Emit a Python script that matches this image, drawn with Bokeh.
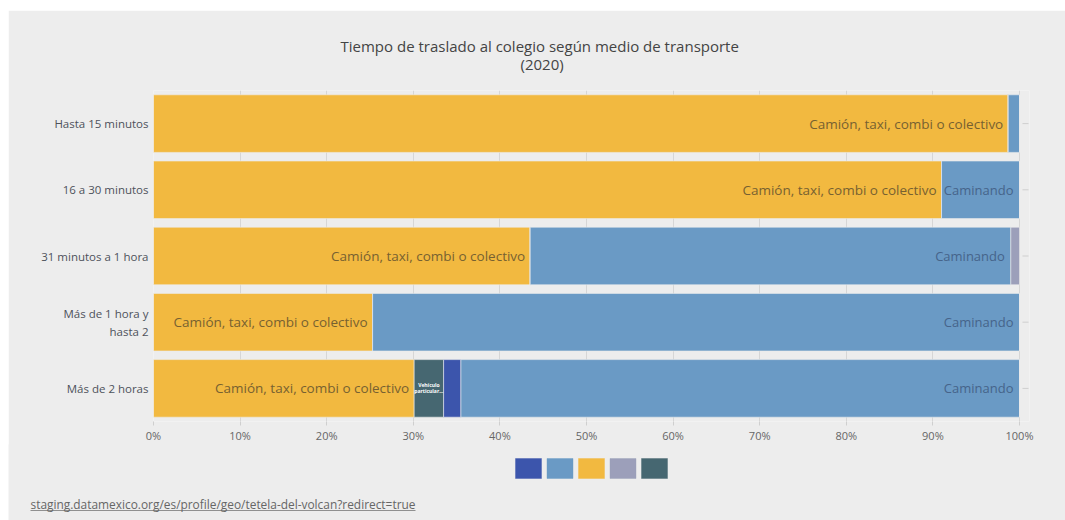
from bokeh.plotting import figure
from bokeh.layouts import column
from bokeh.models import (FactorRange, Range1d, FixedTicker, NumeralTickFormatter, Label,
                          Title, ColumnDataSource)
from bokeh.embed import file_html
from bokeh.resources import INLINE
from bokeh.core.properties import value

categories = ["Hasta 15 minutos", "16 a 30 minutos", "31 minutos a 1 hora",
              "Más de 1 hora y\nhasta 2", "Más de 2 horas"]
camion = [0.987, 0.910, 0.435, 0.253, 0.301]
vehiculo = [0.0, 0.0, 0.0, 0.0, 0.034]
bicicleta = [0.0, 0.0, 0.0, 0.0, 0.020]
caminando = [0.013, 0.090, 0.555, 0.747, 0.645]
otro = [0.0, 0.0, 0.010, 0.0, 0.0]

series = ["camion", "vehiculo", "bicicleta", "caminando", "otro"]
names = {"camion": "Camión, taxi, combi o colectivo",
         "vehiculo": "Vehículo particular",
         "bicicleta": "Bicicleta",
         "caminando": "Caminando",
         "otro": "Otro"}
colors = {"camion": "#F2B940", "vehiculo": "#466771", "bicicleta": "#3C55AC",
          "caminando": "#6A9AC5", "otro": "#9C9FBA"}
legend_order = ["bicicleta", "caminando", "camion", "otro", "vehiculo"]
x_ticks = [0, 0.1, 0.2, 0.3, 0.4, 0.5, 0.6, 0.7, 0.8, 0.9, 1.0]

title_1 = "Tiempo de traslado al colegio según medio de transporte"
title_2 = "(2020)"
source_url = "staging.datamexico.org/es/profile/geo/tetela-del-volcan?redirect=true"

BG = "#EDEDED"
FONT = "Open Sans"
W = 1057
BAR_PX = 866          # pixel width of the 0..100% span
EXTRA_PX = 10         # room on the right of 100% for the small row ticks

src = ColumnDataSource(dict(cat=categories, camion=camion, vehiculo=vehiculo,
                            bicicleta=bicicleta, caminando=caminando, otro=otro))

p = figure(width=W, height=435, output_backend="svg", toolbar_location=None,
           y_range=FactorRange(factors=categories[::-1], range_padding=0),
           x_range=Range1d(0, 1 + EXTRA_PX / BAR_PX), margin=(10, 0, 0, 8), frame_align=False,
           min_border_left=145, min_border_right=46 - EXTRA_PX, min_border_top=80,
           min_border_bottom=23,
           background_fill_color=BG, border_fill_color=BG, outline_line_color=None)
p.title.visible = False

rs = p.hbar_stack(series, y="cat", height=0.87, source=src,
                  color=[colors[s] for s in series], line_color=BG, line_width=0.6)

# small tick marks on the right side of each row
p.segment(x0=[1 + 3 / BAR_PX] * len(categories), y0=categories,
          x1=[1 + 9 / BAR_PX] * len(categories), y1=categories,
          line_color="#CFCFCF", line_width=1)

# bar labels
cum_walk = [c + v + b + w for c, v, b, w in zip(camion, vehiculo, bicicleta, caminando)]
lab_cam = ColumnDataSource(dict(x=camion, y=categories, t=[names["camion"]] * len(categories)))
p.text(x="x", y="y", text="t", source=lab_cam, text_align="right", text_baseline="middle",
       x_offset=-5, text_font=value(FONT), text_font_size="13.5px", text_color="#776131")
walk_idx = [i for i, w in enumerate(caminando) if w >= 0.05]
lab_walk = ColumnDataSource(dict(x=[cum_walk[i] for i in walk_idx],
                                 y=[categories[i] for i in walk_idx],
                                 t=[names["caminando"]] * len(walk_idx)))
p.text(x="x", y="y", text="t", source=lab_walk, text_align="right", text_baseline="middle",
       x_offset=-6, text_font=value(FONT), text_font_size="13px", text_color="#46648A")
veh_idx = [i for i, v in enumerate(vehiculo) if v > 0]
lab_veh = ColumnDataSource(dict(x=[camion[i] + vehiculo[i] / 2 for i in veh_idx],
                                y=[categories[i] for i in veh_idx],
                                t=["Vehículo\nparticular..."] * len(veh_idx)))
p.text(x="x", y="y", text="t", source=lab_veh, text_align="center", text_baseline="middle",
       text_font=value(FONT), text_font_size="5px", text_color="white", text_font_style="bold",
       text_line_height=1.0)

# axes
p.xaxis.ticker = FixedTicker(ticks=x_ticks)
p.xaxis.formatter = NumeralTickFormatter(format="0%")
p.xaxis.axis_line_color = None
p.xaxis.major_tick_line_color = "#CFCFCF"
p.xaxis.major_tick_in = 0
p.xaxis.major_tick_out = 4
p.xaxis.minor_tick_line_color = None
p.xaxis.major_label_text_font = FONT
p.xaxis.major_label_text_font_size = "11px"
p.xaxis.major_label_text_color = "#666666"
p.xaxis.major_label_standoff = 2

p.yaxis.axis_line_color = None
p.yaxis.major_tick_line_color = None
p.yaxis.major_tick_out = 0
p.yaxis.major_tick_in = 0
p.yaxis.major_label_text_font = FONT
p.yaxis.major_label_text_font_size = "11.5px"
p.yaxis.major_label_text_color = "#4E525B"
p.yaxis.major_label_standoff = 5

p.ygrid.grid_line_color = None
p.xgrid.grid_line_color = "#D6D6D6"
p.xgrid.ticker = FixedTicker(ticks=x_ticks)

# titles (closest to the frame added first)
p.add_layout(Title(text=title_2, align="left", offset=367, standoff=34, text_font=FONT,
                   text_font_size="15px", text_font_style="normal", text_color="#444444"),
             "above")
p.add_layout(Title(text=title_1, align="left", offset=187, standoff=-42, text_font=FONT,
                   text_font_size="15px", text_font_style="normal", text_color="#444444"),
             "above")

# bottom strip: colour swatch legend and source
b = figure(width=W, height=76, output_backend="svg", toolbar_location=None,
           x_range=Range1d(0, W), y_range=Range1d(76, 0), margin=(-1, 0, 0, 8),
           frame_align=False,
           min_border=0, x_axis_location=None, y_axis_location=None,
           background_fill_color=BG, border_fill_color=BG, outline_line_color=None)
b.title.visible = False
b.grid.visible = False
sw = ColumnDataSource(dict(x=[520 + 31.5 * i for i in range(len(legend_order))],
                           c=[colors[s] for s in legend_order],
                           name=[names[s] for s in legend_order]))
b.rect(x="x", y=24, width=26, height=20, source=sw, fill_color="c", line_color="c",
       line_alpha=0.4)
b.add_layout(Label(x=22, y=59, text=source_url, text_align="left", text_baseline="middle",
                   text_font=FONT, text_font_size="11.9px", text_color="#666666"))
b.segment(x0=[22], y0=[66], x1=[407], y1=[66], line_color="#777777", line_width=0.8)

layout = column(p, b, spacing=0)
open("out.html", "w").write(file_html(layout, INLINE))
